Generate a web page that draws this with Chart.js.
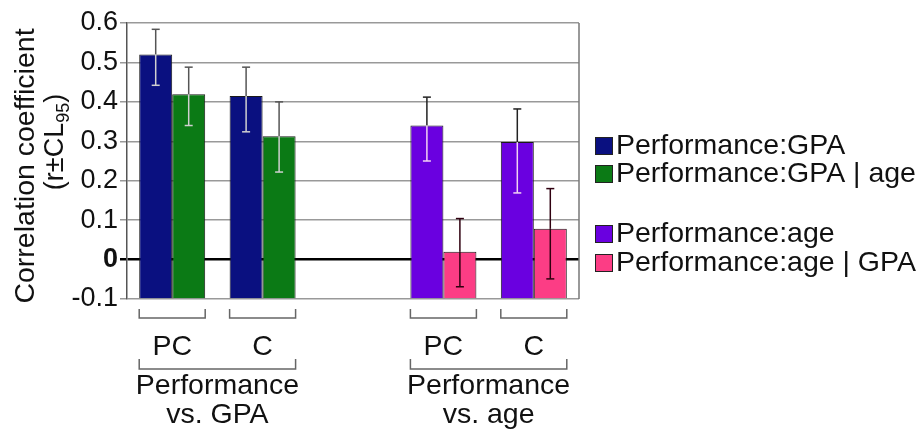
<!DOCTYPE html>
<html>
<head>
<meta charset="utf-8">
<script src="https://cdn.jsdelivr.net/npm/chart.js@4.4.1/dist/chart.umd.min.js"></script>
<style>
  html, body { margin: 0; padding: 0; background: #fff; }
  #wrap { width: 921px; height: 430px; position: relative; }
</style>
</head>
<body>
<div id="wrap"><canvas id="corrChart"></canvas></div>
<script>
// categories on the x axis (the blank one is the gap between the two groups)
const categories = ['PC', 'C', '', 'PC', 'C'];
const groupLabels = [['Performance', 'vs. GPA'], ['Performance', 'vs. age']];
const groupSpans = [[0, 1], [3, 4]];

// r values and 95% confidence limits
const perfGpa      = [0.52, 0.415, null, null, null];
const perfGpaLow   = [0.442, 0.324, null, null, null];
const perfGpaHigh  = [0.584, 0.488, null, null, null];

const perfGpaAge     = [0.419, 0.313, null, null, null];
const perfGpaAgeLow  = [0.340, 0.222, null, null, null];
const perfGpaAgeHigh = [0.488, 0.400, null, null, null];

const perfAge     = [null, null, null, 0.340, 0.298];
const perfAgeLow  = [null, null, null, 0.250, 0.169];
const perfAgeHigh = [null, null, null, 0.412, 0.382];

const perfAgeGpa     = [null, null, null, 0.020, 0.078];
const perfAgeGpaLow  = [null, null, null, -0.069, -0.049];
const perfAgeGpaHigh = [null, null, null, 0.104, 0.180];

const yMin = -0.1, yMax = 0.6, yStep = 0.1;

const FONT = "'Liberation Sans', Arial, Helvetica, sans-serif";

const series = [
  { label: 'Performance:GPA',       data: perfGpa,    low: perfGpaLow,    high: perfGpaHigh,    color: '#0a1080', stack: 'L', inner: '#d0d0d0', outer: '#555' },
  { label: 'Performance:GPA | age', data: perfGpaAge, low: perfGpaAgeLow, high: perfGpaAgeHigh, color: '#0b7a15', stack: 'R', inner: '#d0d0d0', outer: '#555' },
  { label: 'Performance:age',       data: perfAge,    low: perfAgeLow,    high: perfAgeHigh,    color: '#6a00e0', stack: 'L', inner: '#f2d2f2', outer: '#222' },
  { label: 'Performance:age | GPA', data: perfAgeGpa, low: perfAgeGpaLow, high: perfAgeGpaHigh, color: '#fc3d85', stack: 'R', inner: '#300010', outer: '#300010' }
];

const isZero = v => Math.abs(v) < 1e-9;

// error bars: light part inside the bar, dark part outside
const errorBars = {
  id: 'errorBars',
  afterDatasetsDraw(chart) {
    const ctx = chart.ctx;
    const y = chart.scales.y;
    series.forEach((s, i) => {
      const meta = chart.getDatasetMeta(i);
      meta.data.forEach((bar, j) => {
        if (s.data[j] == null) return;
        const top = bar.y, base = bar.base;
        const pl = y.getPixelForValue(s.low[j]);
        const ph = y.getPixelForValue(s.high[j]);
        const cap = 4;
        ctx.save();
        ctx.lineWidth = 1.5;
        const seg = (a, b, col) => {
          ctx.strokeStyle = col;
          ctx.beginPath(); ctx.moveTo(bar.x, a); ctx.lineTo(bar.x, b); ctx.stroke();
        };
        const capAt = (py, col) => {
          ctx.strokeStyle = col;
          ctx.beginPath(); ctx.moveTo(bar.x - cap, py); ctx.lineTo(bar.x + cap, py); ctx.stroke();
        };
        const inBar = py => py >= Math.min(top, base) && py <= Math.max(top, base);
        seg(ph, top, s.outer);
        capAt(ph, inBar(ph) ? s.inner : s.outer);
        seg(top, pl, s.inner);
        capAt(pl, inBar(pl) ? s.inner : s.outer);
        ctx.restore();
      });
    });
  }
};

// frame, brackets, group labels, axis title, legend
const decorations = {
  id: 'decorations',
  afterDraw(chart) {
    const ctx = chart.ctx;
    const area = chart.chartArea;
    ctx.save();

    // right border
    ctx.strokeStyle = '#777';
    ctx.lineWidth = 1.5;
    ctx.beginPath(); ctx.moveTo(area.right, area.top); ctx.lineTo(area.right, area.bottom); ctx.stroke();

    // extents of each category's bar pair
    const extent = idx => {
      let lo = Infinity, hi = -Infinity;
      series.forEach((s, i) => {
        const bar = chart.getDatasetMeta(i).data[idx];
        if (s.data[idx] == null || !bar) return;
        lo = Math.min(lo, bar.x - bar.width / 2);
        hi = Math.max(hi, bar.x + bar.width / 2);
      });
      return [lo, hi];
    };
    const bracket = (x0, x1, yTop, yBot) => {
      ctx.beginPath();
      ctx.moveTo(x0, yTop); ctx.lineTo(x0, yBot); ctx.lineTo(x1, yBot); ctx.lineTo(x1, yTop);
      ctx.stroke();
    };
    ctx.strokeStyle = '#666';
    ctx.lineWidth = 1.5;
    categories.forEach((c, idx) => {
      if (!c) return;
      const [a, b] = extent(idx);
      bracket(a, b, 309, 318);
    });
    ctx.fillStyle = '#111';
    ctx.font = '28.5px ' + FONT;
    ctx.textAlign = 'center';
    ctx.textBaseline = 'alphabetic';
    groupSpans.forEach((span, g) => {
      const a = extent(span[0])[0];
      const b = extent(span[1])[1];
      bracket(a, b, 359, 369);
      const cx = (a + b) / 2;
      ctx.fillText(groupLabels[g][0], cx, 394);
      ctx.fillText(groupLabels[g][1], cx, 423);
    });

    // y axis title
    ctx.save();
    ctx.translate(34, 166);
    ctx.rotate(-Math.PI / 2);
    ctx.textAlign = 'center';
    ctx.textBaseline = 'alphabetic';
    ctx.font = '28.5px ' + FONT;
    ctx.fillText('Correlation coefficient', 0, 0);
    ctx.restore();

    ctx.save();
    ctx.translate(63, 142);
    ctx.rotate(-Math.PI / 2);
    ctx.textBaseline = 'alphabetic';
    ctx.textAlign = 'left';
    const big = '27px ' + FONT, small = '18px ' + FONT;
    ctx.font = big;
    const w1 = ctx.measureText('(r\u00B1CL').width;
    const w3 = ctx.measureText(')').width;
    ctx.font = small;
    const w2 = ctx.measureText('95').width;
    let x = -(w1 + w2 + w3) / 2;
    ctx.font = big;
    ctx.fillText('(r\u00B1CL', x, 0);
    x += w1;
    ctx.font = small;
    ctx.fillText('95', x, 6);
    x += w2;
    ctx.font = big;
    ctx.fillText(')', x, 0);
    ctx.restore();

    // legend
    const rows = [145, 173, 233, 262];
    ctx.font = '28.5px ' + FONT;
    ctx.textAlign = 'left';
    ctx.textBaseline = 'middle';
    series.forEach((s, i) => {
      const cy = rows[i];
      ctx.fillStyle = s.color;
      ctx.fillRect(595, cy - 8, 18, 18);
      ctx.strokeStyle = '#222';
      ctx.lineWidth = 1;
      ctx.strokeRect(595.5, cy - 7.5, 17, 17);
      ctx.fillStyle = '#111';
      ctx.fillText(s.label, 616, cy + 1);
    });

    ctx.restore();
  }
};

const ctx = document.getElementById('corrChart').getContext('2d');
const chart = new Chart(ctx, {
  type: 'bar',
  data: {
    labels: categories,
    datasets: series.map(s => ({
      label: s.label,
      data: s.data,
      stack: s.stack,
      base: yMin,
      backgroundColor: s.color,
      borderColor: '#1a1a1a',
      borderWidth: 1,
      categoryPercentage: 0.73,
      barPercentage: 1
    }))
  },
  options: {
    responsive: true,
    maintainAspectRatio: false,
    animation: false,
    layout: { padding: { top: 23, right: 342, left: 0, bottom: 0 } },
    plugins: {
      legend: { display: false },
      tooltip: { enabled: false }
    },
    scales: {
      x: {
        grid: { display: false },
        border: { display: false },
        ticks: {
          color: '#111',
          font: { family: FONT, size: 28.5 },
          padding: 23,
          autoSkip: false,
          maxRotation: 0
        },
        afterFit(scale) { scale.height = 131; }
      },
      y: {
        min: yMin,
        max: yMax,
        border: { color: '#555', width: 1.5 },
        grid: {
          color: c => isZero(c.tick.value) ? '#000' : '#999',
          lineWidth: c => isZero(c.tick.value) ? 2.5 : 1.5,
          tickLength: 7
        },
        ticks: {
          stepSize: yStep,
          padding: 2,
          color: '#111',
          font: c => ({ family: FONT, size: 27, weight: c.tick && isZero(c.tick.value) ? 'bold' : 'normal' }),
          callback: v => isZero(v) ? '0' : v.toFixed(1)
        },
        afterFit(scale) { scale.width = 127; }
      }
    }
  },
  plugins: [errorBars, decorations]
});
</script>
</body>
</html>
